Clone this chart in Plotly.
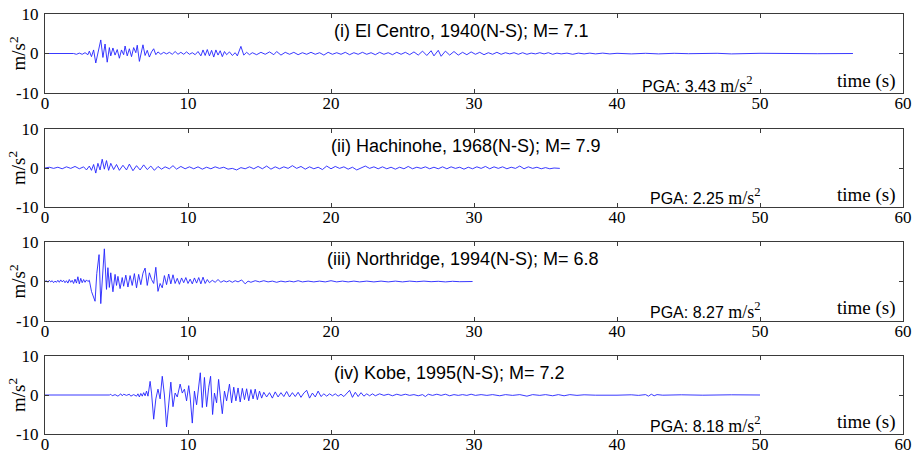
import plotly.graph_objects as go

# ---------------------------------------------------------------------------
# Ground-motion records (N-S components): turning points of each accelerogram
# time in s, acceleration in m/s^2
# ---------------------------------------------------------------------------
elcentro_t = [0, 2.0, 2.2, 2.4, 2.6, 2.8, 3.0, 3.1, 3.25, 3.4, 3.55, 3.75, 3.9, 4.05, 4.2, 4.35,
              4.5, 4.6, 4.75, 4.9, 5.05, 5.2, 5.35, 5.5, 5.6, 5.75, 5.9, 6.05, 6.2, 6.35, 6.45,
              6.6, 6.75, 6.85, 7.0, 7.15, 7.3, 7.45, 7.6, 7.75, 7.9, 8.1, 8.3, 8.5, 8.7, 8.9,
              9.1, 9.3, 9.5, 9.7, 9.9, 10.1, 10.3, 10.5, 10.7, 10.9, 11.05, 11.2, 11.35, 11.5,
              11.65, 11.8, 11.95, 12.1, 12.25, 12.4, 12.55, 12.7, 12.9, 13.1, 13.3, 13.45, 13.7,
              13.9, 14.1, 14.3, 14.5, 14.8, 15.1, 15.4, 15.7, 16.0, 16.2, 16.5, 16.8, 17.1, 17.4,
              17.7, 18.0, 18.3, 18.6, 18.9, 19.2, 19.5, 19.8, 20.1, 20.4, 20.7, 21.0, 21.3, 21.6,
              21.9, 22.2, 22.5, 22.8, 23.1, 23.4, 23.7, 24.0, 24.3, 24.6, 24.9, 25.2, 25.5, 25.8,
              26.1, 26.4, 26.7, 27.0, 27.2, 27.5, 27.7, 28.0, 28.3, 28.6, 28.9, 29.2, 29.5, 29.8,
              30.1, 30.4, 30.7, 31.0, 31.3, 31.6, 31.9, 32.2, 32.5, 32.8, 33.1, 33.4, 33.7, 34.0,
              34.3, 34.6, 34.9, 35.2, 35.5, 35.8, 36.1, 36.5, 36.9, 37.3, 37.7, 38.1, 38.5, 39.0,
              39.5, 40.0, 41.0, 42.0, 42.9, 44.0, 45.0, 47.0, 48.0, 50.0, 52.0, 53.0, 54.0, 56.5]
elcentro_a = [0, 0, -0.2, 0.1, -0.2, 0.2, -0.3, 0.6, -0.8, 0.9, -2.4, 1.2, 3.43, -1.0, 2.4, -2.2,
              1.5, -0.6, 1.4, -0.4, 1.0, -1.2, 0.9, -0.3, 1.9, -0.6, 1.2, -0.8, 1.5, 0.2, 2.1,
              -2.0, 1.0, 2.2, -0.5, 0.8, -0.9, 0.4, 1.2, -0.3, 0.4, -0.2, 0.3, -0.1, 0.3, -0.2,
              0.5, -0.2, 0.3, -0.2, 0.4, -0.2, 0.2, -0.3, 0.5, -0.6, 0.9, -0.5, 1.0, -0.6,
              0.8, -0.9, 0.9, -0.4, 0.7, -0.8, 0.5, -0.3, 0.4, -0.5, 0.2, -0.6, 1.8,
              -0.4, 0.3, -0.3, 0.2, -0.3, 0.3, -0.2, 0.4, -0.3, 0.5, -0.4, 0.3, -0.2, 0.3,
              -0.3, 0.2, -0.2, 0.3, -0.2, 0.2, -0.4, 0.3, -0.2, 0.2, -0.2, 0.3, -0.3, 0.2,
              -0.2, 0.3, -0.2, 0.2, -0.3, 0.3, -0.2, 0.2, -0.3, 0.3, -0.2, 0.3, -0.3, 0.4,
              -0.4, 0.6, -0.5, 0.7, -0.6, 0.8, -0.7, 0.6, -0.4, 0.5, -0.4, 0.3, -0.3, 0.4,
              -0.2, 0.3, -0.3, 0.2, -0.2, 0.3, -0.2, 0.2, -0.1, 0.2, -0.2, 0.2, -0.2, 0.1,
              -0.1, 0.2, -0.1, 0.2, -0.2, 0.1, -0.1, 0.1, -0.2, 0.1, -0.1, 0.1, -0.1, 0.1,
              -0.1, 0.05, -0.1, 0.05, -0.1, 0.05, -0.05, 0.05, -0.1, 0.05, -0.05, 0.05, -0.05, 0]

hachinohe_t = [0, 0.3, 0.6, 0.9, 1.2, 1.5, 1.8, 2.1, 2.4, 2.7, 2.9, 3.1, 3.25, 3.4, 3.55, 3.7,
               3.85, 4.0, 4.15, 4.3, 4.45, 4.6, 4.8, 5.0, 5.2, 5.45, 5.7, 5.9, 6.15, 6.4, 6.65,
               6.9, 7.15, 7.4, 7.65, 7.9, 8.15, 8.4, 8.7, 8.95, 9.2, 9.5, 9.8, 10.1, 10.4, 10.7,
               11.0, 11.3, 11.6, 11.9, 12.2, 12.5, 12.8, 13.1, 13.4, 13.7, 14.0, 14.3, 14.6,
               14.9, 15.2, 15.5, 15.8, 16.1, 16.4, 16.7, 17.0, 17.3, 17.6, 17.9, 18.2, 18.5,
               18.8, 19.1, 19.4, 19.7, 20.0, 20.3, 20.6, 20.9, 21.2, 21.5, 21.8, 22.1, 22.4,
               22.7, 23.0, 23.3, 23.6, 23.9, 24.2, 24.5, 24.8, 25.1, 25.4, 25.7, 26.0, 26.3,
               26.6, 26.9, 27.2, 27.5, 27.8, 28.1, 28.4, 28.7, 29.0, 29.3, 29.6, 29.9, 30.2,
               30.5, 30.8, 31.1, 31.4, 31.7, 32.0, 32.3, 32.6, 32.9, 33.2, 33.5, 33.8, 34.1,
               34.4, 34.7, 35.0, 35.3, 35.6, 36.0]
hachinohe_a = [0, 0.2, -0.1, 0.2, -0.2, 0.3, -0.1, 0.4, -0.2, 0.3, -0.5, 0.5, -0.6, 0.9, -1.3, 1.2,
               -0.5, 2.25, -0.3, 1.9, -0.6, 1.2, -0.4, 0.9, -0.6, 0.7, -0.5, 1.0, -0.7, 0.6, -0.5,
               0.8, -0.4, 0.5, -0.6, 0.4, -0.3, 0.3, -0.2, 0.6, -0.3, 0.4, -0.2, 0.3, -0.2, 0.3,
               -0.3, 0.2, -0.2, 0.3, -0.1, 0.2, -0.3, -0.1, -0.5, 0.1, -0.2, 0.3, -0.2,
               0.4, -0.2, 0.5, -0.3, 0.3, -0.2, 0.3, -0.1, 0.6, -0.1, 0.4, -0.3, 0.3,
               -0.2, 0.2, -0.4, 0.5, -0.2, 0.4, -0.1, 0.3, -0.3, 0.2, -0.5, 0.1, 0.5,
               -0.1, 0.3, -0.2, 0.3, -0.2, 0.2, -0.3, 0.2, -0.2, 0.4, -0.2, 0.2, -0.1,
               0.3, -0.2, 0.2, -0.2, 0.3, -0.2, 0.3, -0.1, 0.2, -0.3, 0.2, -0.2, 0.3,
               -0.1, 0.4, -0.2, 0.3, -0.1, 0.3, -0.2, 0.2, -0.1, 0.5, -0.2, 0.3, -0.1,
               0.2, -0.2, 0.1, -0.2, 0.0, -0.1]

northridge_t = [0, 0.1, 0.2, 0.3, 0.4, 0.5, 0.6, 0.7, 0.8, 0.9, 1.0, 1.1, 1.2, 1.3, 1.4, 1.5,
                1.6, 1.7, 1.8, 1.9, 2.0, 2.1, 2.2, 2.3, 2.4, 2.5, 2.6, 2.7, 2.8, 2.9, 3.0, 3.1,
                3.25, 3.5, 3.62, 3.78, 3.9, 4.0, 4.15, 4.3, 4.4, 4.5, 4.6, 4.75, 4.9, 5.0, 5.1,
                5.25, 5.4, 5.5, 5.65, 5.8, 5.95, 6.1, 6.25, 6.4, 6.55, 6.7, 6.85, 7.0, 7.15, 7.3,
                7.45, 7.6, 7.75, 7.9, 8.05, 8.2, 8.35, 8.5, 8.65, 8.8, 8.95, 9.1, 9.25, 9.4,
                9.55, 9.7, 9.85, 10.0, 10.15, 10.3, 10.45, 10.6, 10.75, 10.9, 11.05, 11.2,
                11.35, 11.5, 11.7, 11.9, 12.1, 12.3, 12.5, 12.7, 12.9, 13.1, 13.3, 13.5, 13.75,
                14.0, 14.2, 14.4, 14.7, 15.0, 15.3, 15.6, 15.9, 16.2, 16.5, 16.8, 17.1, 17.4,
                17.7, 18.0, 18.4, 18.8, 19.2, 19.6, 20.0, 20.4, 20.8, 21.2, 21.6, 22.0, 22.5,
                23.0, 23.5, 24.0, 24.5, 25.0, 25.5, 26.0, 26.5, 27.0, 27.5, 28.0, 28.5, 29.0,
                29.9]
northridge_a = [0, 0.2, -0.2, 0.3, -0.1, 0.2, -0.3, 0.1, -0.2, 0.3, -0.2, 0.4, -0.1, 0.3, -0.3, 0.2,
                -0.4, 0.5, -0.2, 0.3, -0.5, 0.6, -0.4, 1.2, -0.6, 0.8, -0.3, 0.5, -0.2, 0.4, 0.0, 0.3,
                -2.5, -5.0, 2.0, 6.8, -5.6, 1.0, 8.27, -2.0, 3.5, -1.5, 2.2, -2.6, 1.8, -1.0, 1.3,
                -1.8, 1.0, -1.2, 1.6, -1.4, 1.5, -1.0, 2.0, -1.6, 1.8, -0.8, 2.1, 3.4, -1.0, 2.2,
                0.5, -0.5, 3.6, -2.5, -0.5, -1.6, 1.5, -0.8, 1.9, -0.6, 1.7, -0.5, 0.8, -0.7,
                0.9, -0.3, 1.0, -0.5, 0.6, -0.6, 0.9, -0.4, 1.0, -0.6, 1.1, -0.5,
                0.5, -0.3, 0.3, -0.2, 0.5, -0.2, 0.2, -0.1, 0.2, -0.2, 0.2, -0.1, 0.4,
                -0.6, 0.1, -0.2, 0.2, -0.1, 0.2, -0.1, 0.1, -0.2, 0.1, -0.1, 0.1, -0.1,
                0.2, -0.1, 0.1, -0.1, 0.1, -0.1, 0.2, -0.1, 0.1, -0.1, 0.1, -0.1, 0.1,
                -0.1, 0.1, -0.1, 0.1, -0.1, 0.1, -0.05, 0.1, -0.05, 0.05, -0.1, 0.05, -0.05,
                0]

kobe_t = [0, 4.5, 4.6, 4.7, 4.9, 5.1, 5.3, 5.4, 5.5, 5.7, 5.9, 6.0, 6.2, 6.4, 6.5, 6.6, 6.7,
          6.8, 6.9, 7.0, 7.1, 7.2, 7.35, 7.45, 7.6, 7.75, 7.9, 8.05, 8.2, 8.35, 8.5, 8.65, 8.8,
          8.95, 9.1, 9.25, 9.45, 9.6, 9.75, 9.9, 10.05, 10.15, 10.3, 10.45, 10.6, 10.86, 11.0,
          11.15, 11.3, 11.45, 11.58, 11.72, 11.85, 12.0, 12.14, 12.28, 12.4, 12.55, 12.7, 12.9,
          13.05, 13.2, 13.35, 13.5, 13.65, 13.8, 13.95, 14.1, 14.25, 14.4, 14.55, 14.7, 14.85,
          15.0, 15.15, 15.3, 15.5, 15.7, 15.9, 16.1, 16.3, 16.5, 16.7, 16.9, 17.1, 17.3, 17.5,
          17.7, 17.9, 18.1, 18.3, 18.5, 18.7, 18.9, 19.1, 19.3, 19.5, 19.7, 19.9, 20.1, 20.3,
          20.5, 20.7, 20.9, 21.1, 21.3, 21.5, 21.7, 21.9, 22.1, 22.3, 22.5, 22.7, 22.9, 23.1,
          23.4, 23.7, 24.0, 24.3, 24.6, 24.9, 25.2, 25.5, 25.8, 26.1, 26.4, 26.6, 26.8, 27.1,
          27.4, 27.7, 28.0, 28.3, 28.6, 28.9, 29.2, 29.5, 29.8, 30.1, 30.5, 30.9, 31.3, 31.8,
          32.2, 32.7, 33.2, 33.7, 34.1, 34.6, 35.0, 35.5, 35.9, 36.3, 36.7, 37.2, 37.7, 38.5,
          39.3, 40.0, 41.0, 41.5, 42.0, 42.2, 42.4, 42.6, 42.8, 43.2, 44.5, 46.0, 48.0, 50.0]
kobe_a = [0, 0, 0.2, -0.2, 0.1, -0.3, 0.3, -0.2, 0.2, -0.1, 0.2, -0.3, 0.1, -0.3, 0.3, -0.5, 0.4,
          -0.3, 0.6, -0.2, 1.0, -0.3, 3.5, 0.5, -6.2, -1.0, 1.5, -1.0, 4.8, 0.0, -8.18, -2.0, 3.3,
          -3.0, 0.5, -0.5, 2.8, 0.5, 1.5, -1.5, 2.4, -0.5, -7.2, 1.0, -2.5, 5.7, -3.2,
          4.5, -3.0, 2.0, 4.8, -5.0, 0.5, -2.0, 4.0, -1.0, -4.8, 1.0, -1.5, 2.8,
          -2.0, 2.0, -1.5, 1.8, -1.8, 1.7, -1.2, 1.6, -1.5, 1.4, -1.0, 1.5, -1.2,
          1.0, -0.8, 0.7, -0.5, 0.6, -0.8, 0.8, -0.5, 0.6, -0.4, 0.9, -0.5, 0.6, -0.4,
          0.7, -0.6, 0.5, 1.2, -0.8, 0.5, -0.5, 1.0, -0.4, 0.3, -0.3, 0.3, -0.2, 0.3,
          -0.3, 0.2, -0.4, 0.5, 1.2, -0.6, 0.7, -0.4, 0.6, -0.3, 0.3, -0.2, 0.3, -0.2,
          0.3, -0.1, 0.2, -0.2, 0.2, -0.1, 0.2, -0.1, 0.1, -0.2, 0.1, -0.4, 0.2, -0.1,
          0.2, -0.1, 0.2, -0.2, 0.1, -0.1, 0.1, -0.1, 0.2, -0.1, 0.1, -0.1, 0.1, -0.2,
          0.1, -0.1, 0.1, -0.3, 0.1, -0.1, 0.1, -0.2, 0.1, -0.2, 0.1, -0.1, 0.05, -0.05,
          0.05, -0.05, 0.05, -0.1, 0.1, -0.3, 0.2, -0.2, 0.1, -0.05, 0.05, -0.05, 0.05, 0]

titles = ["(i) El Centro, 1940(N-S); M= 7.1",
          "(ii) Hachinohe, 1968(N-S); M= 7.9",
          "(iii) Northridge, 1994(N-S); M= 6.8",
          "(iv) Kobe, 1995(N-S); M= 7.2"]
pga_values = ["3.43", "2.25", "8.27", "8.18"]
x_ticks = [0, 10, 20, 30, 40, 50, 60]
y_ticks = [-10, 0, 10]
y_tick_text = ["-10", "0", "10"]

records = [(elcentro_t, elcentro_a), (hachinohe_t, hachinohe_a),
           (northridge_t, northridge_a), (kobe_t, kobe_a)]

# ---------------------------------------------------------------------------
# Figure layout (pixel geometry of a 920 x 456 canvas)
# ---------------------------------------------------------------------------
W, H = 920, 456
PLOT_LEFT, PLOT_RIGHT = 45, 903
PANEL_TOPS = [14, 129, 242, 356]
PANEL_BOTTOMS = [93, 207, 321, 434]
TITLE_LEFT = [332, 329, 325, 332]
PGA_BASE_Y = [85, 196, 310, 424]
TIME_BASE_Y = [81, 195, 308, 422]

SERIF = "Liberation Serif, Times New Roman, serif"
SANS = "Liberation Sans, Arial, sans-serif"
LINE_COLOR = "#2323ff"
FRAME_COLOR = "#3a3a3a"


def px_x(p):
    return p / W


def px_y(p):
    return 1 - p / H


fig = go.Figure()
layout_axes = {}
annotations = []

for i, ((t, a), title, pga) in enumerate(zip(records, titles, pga_values)):
    n = "" if i == 0 else str(i + 1)
    fig.add_trace(go.Scatter(
        x=t, y=a, mode="lines",
        line=dict(color=LINE_COLOR, width=0.9),
        xaxis="x" + n, yaxis="y" + n, showlegend=False, hoverinfo="skip",
    ))

    top, bottom = PANEL_TOPS[i], PANEL_BOTTOMS[i]
    layout_axes["xaxis" + n] = dict(
        domain=[px_x(PLOT_LEFT), px_x(PLOT_RIGHT)], anchor="y" + n,
        range=[0, 60], tickvals=x_ticks, ticks="inside", ticklen=4,
        tickcolor=FRAME_COLOR, showline=True, linecolor=FRAME_COLOR, linewidth=1,
        mirror="ticks", showgrid=False, zeroline=False, automargin=False,
        tickfont=dict(family=SERIF, size=17, color="black"),
        ticklabelstandoff=-5,
    )
    layout_axes["yaxis" + n] = dict(
        domain=[px_y(bottom), px_y(top)], anchor="x" + n,
        range=[-10, 10], tickvals=y_ticks, ticktext=y_tick_text,
        ticks="inside", ticklen=4,
        tickcolor=FRAME_COLOR, showline=True, linecolor=FRAME_COLOR, linewidth=1,
        mirror="ticks", showgrid=False, zeroline=False, automargin=False,
        tickfont=dict(family=SERIF, size=17, color="black"),
        ticklabelstandoff=2,
    )

    # record title inside the panel
    annotations.append(dict(
        x=px_x(TITLE_LEFT[i]), y=px_y(top + 17), xref="paper", yref="paper",
        xanchor="left", yanchor="middle", showarrow=False,
        text=title, font=dict(family=SANS, size=18, color="black"),
    ))
    # peak ground acceleration
    annotations.append(dict(
        x=px_x(640 if i == 0 else 648), y=px_y(PGA_BASE_Y[i]), xref="paper", yref="paper",
        xanchor="left", yanchor="middle", showarrow=False,
        text=("PGA: " + pga + " <span style='font-family:" + SERIF
              + "; font-size:18px'>m/s<sup>2</sup></span>"),
        font=dict(family=SANS, size=16, color="black"),
    ))
    # time axis label
    annotations.append(dict(
        x=px_x(898), y=px_y(TIME_BASE_Y[i]), xref="paper", yref="paper",
        xanchor="right", yanchor="middle", showarrow=False,
        text="time (s)", font=dict(family=SERIF, size=19, color="black"),
    ))
    # acceleration unit on the left
    annotations.append(dict(
        x=px_x(17), y=px_y((top + bottom) / 2), xref="paper", yref="paper",
        xanchor="center", yanchor="middle", showarrow=False, textangle=-90,
        text="m/s<sup>2</sup>", font=dict(family=SERIF, size=19, color="black"),
    ))

fig.update_layout(
    template="none",
    width=W, height=H,
    margin=dict(l=0, r=0, t=0, b=0, autoexpand=False),
    paper_bgcolor="white", plot_bgcolor="white",
    annotations=annotations,
    **layout_axes,
)

fig.write_html("out.html", config={"displayModeBar": False})
